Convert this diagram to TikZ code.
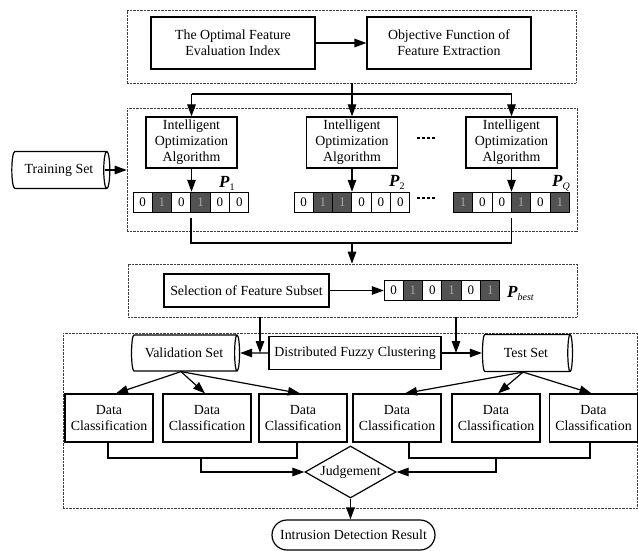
\documentclass[tikz,border=0pt]{standalone}
\usepackage{fontspec}
\setmainfont{Liberation Serif}
\usetikzlibrary{shapes.geometric,arrows.meta,calc}
\newcommand\plab[1]{{\fontsize{17}{17}\selectfont\bfseries\itshape P}\raisebox{-3.5pt}{\fontsize{10}{10}\selectfont #1}}
\begin{document}
\begin{tikzpicture}[x=1pt,y=-1pt,
  txt/.style={font=\fontsize{13.9}{16}\selectfont, align=center},
  pbox/.style={txt, draw, line width=1.2pt, inner sep=0pt, fill=white},
  grp/.style={draw=black!75, line width=0.6pt, dash pattern=on 0.8pt off 0.6pt, inner sep=0pt},
  cyl/.style={txt, draw, shape=cylinder, line width=1.2pt, aspect=0.5, inner sep=0pt},
  cell0/.style={draw, line width=1pt, minimum width=19.33pt, minimum height=20pt, inner sep=0pt, fill=white, font=\fontsize{13}{13}\selectfont},
  cell1/.style={cell0, fill=black!68, text=black!35},
  ln/.style={line width=1.2pt},
  arr/.style={line width=1.2pt, -{Triangle[length=12pt,width=8.5pt]}},
  dots/.style={line width=1.3pt, dash pattern=on 3pt off 2pt}
]
\useasboundingbox (0,0) rectangle (638,551);

% ---------- group 1
\node[grp, minimum width=449pt, minimum height=73pt] (g1) at (351.5,46.5) {};
\node[pbox, minimum width=164pt, minimum height=52pt] (b1) at (233,43) {The Optimal Feature\\Evaluation Index};
\node[pbox, minimum width=164pt, minimum height=52pt] (b2) at (449,43) {Objective Function of\\Feature Extraction};
\draw[arr] (b1) -- (b2);

% ---------- group 2
\node[grp, minimum width=450pt, minimum height=123pt] (g2) at (352,169.5) {};
\node[pbox, minimum width=91pt, minimum height=51pt] (ioa1) at (191.5,142.5) {Intelligent\\Optimization\\Algorithm};
\node[pbox, minimum width=91pt, minimum height=51pt] (ioa2) at (352,142.5) {Intelligent\\Optimization\\Algorithm};
\node[pbox, minimum width=91pt, minimum height=51pt] (ioa3) at (511.5,142.5) {Intelligent\\Optimization\\Algorithm};

\node[minimum width=116pt, minimum height=20pt, inner sep=0pt] (r1) at (191,202) {};
\foreach \v [count=\i] in {0,1,0,1,0,0} \node[cell\v] (r1-\i) at (133+19.33*\i-9.665,202) {\v};
\node[minimum width=116pt, minimum height=20pt, inner sep=0pt] (r2) at (352,202) {};
\foreach \v [count=\i] in {0,1,1,0,0,0} \node[cell\v] (r2-\i) at (294+19.33*\i-9.665,202) {\v};
\node[minimum width=116pt, minimum height=20pt, inner sep=0pt] (r3) at (511.5,202) {};
\foreach \v [count=\i] in {1,0,0,1,0,1} \node[cell\v] (r3-\i) at (453.5+19.33*\i-9.665,202) {\v};

\node[anchor=base west, inner sep=0pt] (p1) at (219,187) {\plab{1}};
\node[anchor=base west, inner sep=0pt] (p2) at (389,186) {\plab{2}};
\node[anchor=base west, inner sep=0pt] (pq) at (552,186) {\plab{\itshape Q}};

\coordinate (d1a) at (417,138); \coordinate (d1b) at (435,138);
\coordinate (d2a) at (417,198); \coordinate (d2b) at (435,198);
\draw[dots] (d1a) -- (d1b);
\draw[dots] (d2a) -- (d2b);

\node[cyl, minimum width=37pt, minimum height=98pt] (trn) at (59,170) {Training Set};
\draw[arr] ([xshift=-5pt]trn.east) -- (trn.east -| g2.west);

\coordinate (j1) at (352,94);
\draw[ln] (g1.south -| j1) -- (j1);
\draw[ln] (ioa1.north |- j1) -- (ioa3.north |- j1);
\draw[arr] (ioa1.north |- j1) -- (ioa1.north);
\draw[arr] (j1) -- (ioa2.north);
\draw[arr] (ioa3.north |- j1) -- (ioa3.north);
\draw[arr] (ioa1.south) -- (ioa1.south |- r1.north);
\draw[arr] (ioa2.south) -- (ioa2.south |- r2.north);
\draw[arr] (ioa3.south) -- (ioa3.south |- r3.north);

\coordinate (j2) at (352,243);
\draw[ln] ([yshift=-6pt]r1.south) |- (j2) -| ([yshift=-6pt]r3.south);

% ---------- group 3
\node[grp, minimum width=449pt, minimum height=53pt] (g3) at (352.5,290.5) {};
\node[pbox, minimum width=165pt, minimum height=33pt] (sel) at (246.5,290.5) {Selection of Feature Subset};
\node[minimum width=116pt, minimum height=20pt, inner sep=0pt] (rb) at (442,290.5) {};
\foreach \v [count=\i] in {0,1,0,1,0,1} \node[cell\v] (rb-\i) at (384+19.33*\i-9.665,290.5) {\v};
\node[anchor=base west, inner sep=0pt] (pb) at (507,297) {\plab{\itshape best}};
\draw[arr] (sel.east) -- (sel.east -| rb.west);
\draw[arr] (j2) -- (j2 |- g3.north);

% ---------- group 4
\node[grp, minimum width=574.5pt, minimum height=175pt] (g4) at (350.25,420.5) {};
\node[cyl, minimum width=36pt, minimum height=108pt] (val) at (184,353) {Validation Set};
\node[pbox, minimum width=172pt, minimum height=33pt] (dfc) at (355,353) {Distributed Fuzzy Clustering};
\node[cyl, minimum width=37pt, minimum height=90pt] (tst) at (526,353) {Test Set};
\draw[arr] (dfc.west) -- (val.east);
\draw[arr] (dfc.east) -- (tst.west);
\coordinate (v1) at (260,353);
\coordinate (v2) at (456,353);
\draw[arr] (g3.south -| v1) -- (v1);
\draw[arr] (g3.south -| v2) -- (v2);

\foreach \n/\x in {dc1/109, dc2/207, dc3/303, dc4/397, dc5/496, dc6/593.5}
  \node[pbox, minimum width=88pt, minimum height=48pt] (\n) at (\x,418) {Data\\Classification};

\draw[arr] ([xshift=-3pt]val.south) -- ([xshift=7pt]dc1.north);
\draw[arr] ([xshift=-3pt]val.south) -- ([xshift=-2pt]dc2.north);
\draw[arr] ([xshift=-3pt]val.south) -- ([xshift=-3pt]dc3.north);
\draw[arr] ([xshift=-3pt]tst.south) -- ([xshift=8pt]dc4.north);
\draw[arr] ([xshift=-3pt]tst.south) -- ([xshift=2pt]dc5.north);
\draw[arr] ([xshift=-3pt]tst.south) -- ([xshift=-2pt]dc6.north);

\node[txt, draw, shape=diamond, line width=1.2pt, inner sep=0pt, aspect=1.75, minimum width=91pt, minimum height=52pt] (judg) at (350.5,472) {Judgement};

\coordinate (h1) at (201,458);
\coordinate (h2) at (496,458);
\draw[ln] ([xshift=-1pt]dc1.south) |- (h1) -| ([xshift=-6pt]dc3.south);
\draw[arr] (h1) |- (judg.west);
\draw[ln] ([xshift=12pt]dc4.south) |- (h2) -| ([xshift=-3.5pt]dc6.south);
\draw[arr] (h2) |- (judg.east);

\node[pbox, rounded corners=15pt, minimum width=163pt, minimum height=30pt] (idr) at (353.5,535) {Intrusion Detection Result};
\draw[arr] (judg.south) -- (judg.south |- idr.north);
\end{tikzpicture}
\end{document}
